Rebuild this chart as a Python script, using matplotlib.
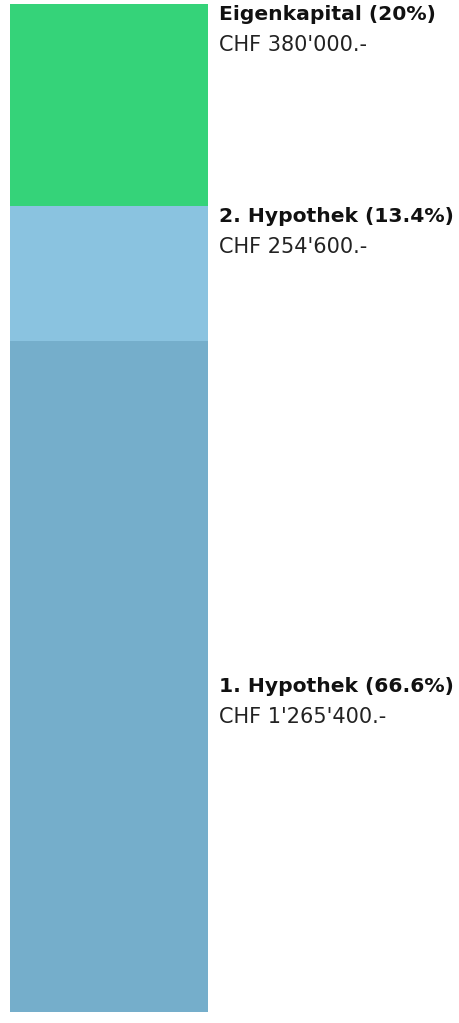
import numpy as np
import matplotlib
matplotlib.use('Agg')
import matplotlib.pyplot as plt
from matplotlib.transforms import blended_transform_factory, offset_copy

# financing split, bottom to top
labels = ['1. Hypothek', '2. Hypothek', 'Eigenkapital']
amounts = [1265400, 254600, 380000]
shares = ['66.6%', '13.4%', '20%']
amount_text = ["CHF 1'265'400.-", "CHF 254'600.-", "CHF 380'000.-"]
colors = ['#75aecb', '#8ac3e0', '#35d379']

W, H = 459, 1023
fig = plt.figure(figsize=(W / 100, H / 100), dpi=100)
ax = fig.add_axes([10 / W, 11 / H, 198 / W, 1008 / H])

total = sum(amounts)
bottoms = np.concatenate([[0], np.cumsum(amounts)[:-1]])
ax.bar(0, amounts, bottom=bottoms, width=1, color=colors, edgecolor='none')
ax.set_xlim(-0.5, 0.5)
ax.set_ylim(0, total)
ax.axis('off')

trans = blended_transform_factory(ax.transAxes, ax.transData)
for i in range(len(amounts)):
    top = bottoms[i] + amounts[i]
    # largest block gets its label in the middle, the others at the top
    y = bottoms[i] + amounts[i] / 2 if amounts[i] == max(amounts) else top
    t1 = offset_copy(trans, fig=fig, x=11, y=-1, units='dots')
    t2 = offset_copy(trans, fig=fig, x=11, y=-31, units='dots')
    ax.text(1.0, y, f'{labels[i]} ({shares[i]})', transform=t1, ha='left', va='top',
            fontsize=14.6, fontweight='bold', color='#111111', clip_on=False)
    ax.text(1.0, y, amount_text[i], transform=t2, ha='left', va='top',
            fontsize=15, color='#222222', clip_on=False)

fig.savefig('out.png', dpi=100)
